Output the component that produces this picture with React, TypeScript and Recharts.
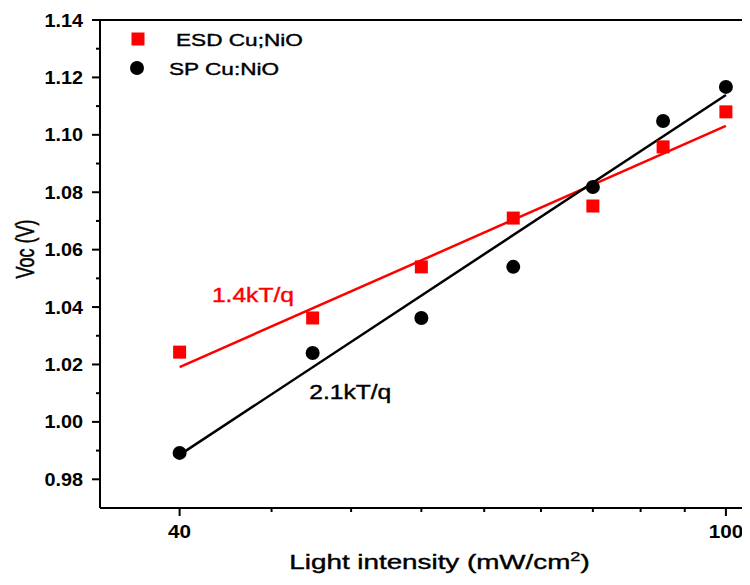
import React from "react";
import {
  ComposedChart,
  XAxis,
  YAxis,
  Line,
  Scatter,
  Legend,
  ReferenceLine,
  ReferenceDot,
} from "recharts";

// light intensity (mW/cm2), log axis
const intensity = [40, 50, 60, 70, 80, 90, 100];
const esdVoc = [1.0243, 1.0362, 1.054, 1.071, 1.0752, 1.0958, 1.108];
const spVoc = [0.9892, 1.024, 1.0362, 1.054, 1.0818, 1.1048, 1.1167];

// linear fits (Voc vs ln I), end points
const fitIntensity = [40, 100];
const esdFit = [1.0191, 1.1031];
const spFit = [0.9885, 1.1139];

const seriesNames = ["ESD Cu;NiO", "SP Cu:NiO"];
const slopeLabels = ["1.4kT/q", "2.1kT/q"];

const xTicks = [40, 46.67, 53.33, 60, 66.67, 73.33, 80, 86.67, 93.33, 100];
const xLabelled = [40, 100];
const yTicks = [
  0.98, 0.99, 1.0, 1.01, 1.02, 1.03, 1.04, 1.05, 1.06, 1.07, 1.08, 1.09, 1.1,
  1.11, 1.12, 1.13, 1.14,
];

const FONT = "'Liberation Sans', Arial, sans-serif";
const RED = "#ff0000";

const esdData = intensity.map((x, i) => ({ x, y: esdVoc[i] }));
const spData = intensity.map((x, i) => ({ x, y: spVoc[i] }));
const esdFitData = fitIntensity.map((x, i) => ({ x, y: esdFit[i] }));
const spFitData = fitIntensity.map((x, i) => ({ x, y: spFit[i] }));

// the original figure is stretched sideways, so glyphs get a horizontal scale
const Wide = ({ x, y, sx, anchor = "start", fill = "#000", heavy, children, ...rest }: any) => (
  <text
    transform={`translate(${x}, ${y}) scale(${sx}, 1)`}
    textAnchor={anchor}
    fontFamily={FONT}
    fill={fill}
    stroke={heavy ? fill : undefined}
    strokeWidth={heavy ? 0.4 : undefined}
    {...rest}
  >
    {children}
  </text>
);

const XTick = ({ x, y, payload }: any) => {
  const major = xLabelled.includes(payload.value);
  return (
    <g>
      <line x1={x} x2={x} y1={y} y2={y + (major ? 8 : 4)} stroke="#000" strokeWidth={2} />
      {major && (
        <Wide x={x} y={y + 30} sx={1.15} anchor="middle" fontWeight="bold" fontSize={18}>
          {String(payload.value)}
        </Wide>
      )}
    </g>
  );
};

const YTick = ({ x, y, payload }: any) => {
  const major = Math.round(payload.value * 100) % 2 === 0;
  return (
    <g>
      <line x1={x - (major ? 8 : 4)} x2={x} y1={y} y2={y} stroke="#000" strokeWidth={2} />
      {major && (
        <Wide x={x - 17} y={y + 6.5} sx={1.1} anchor="end" fontWeight="bold" fontSize={18}>
          {payload.value.toFixed(2)}
        </Wide>
      )}
    </g>
  );
};

const YTitle = ({ viewBox }: any) => (
  <text
    transform={`translate(${viewBox.x + 25}, ${viewBox.y + viewBox.height / 2 - 15}) scale(1.45,1) rotate(-90)`}
    textAnchor="middle"
    dominantBaseline="central"
    fontFamily={FONT}
    fontSize={18}
    fill="#000"
    stroke="#000"
    strokeWidth={0.35}
  >
    Voc (V)
  </text>
);

const XTitle = ({ viewBox }: any) => (
  <Wide
    x={viewBox.x + viewBox.width / 2 + 12}
    y={viewBox.y + 61}
    sx={1.39}
    anchor="middle"
    fontSize={20}
    heavy
  >
    Light intensity (mW/cm
    <tspan fontSize={13} dy={-8}>
      2
    </tspan>
    <tspan dy={8}>)</tspan>
  </Wide>
);

const SlopeLabel = ({ viewBox, text, color }: any) => (
  <Wide x={viewBox.x} y={viewBox.y} sx={1.23} fontSize={20} fill={color} heavy>
    {text}
  </Wide>
);

const RedSquare = ({ cx, cy }: any) => (
  <rect x={cx - 6.5} y={cy - 6.5} width={13} height={13} fill={RED} />
);
const BlackDot = ({ cx, cy }: any) => <circle cx={cx} cy={cy} r={7} fill="#000" />;

const LegendBox = () => (
  <svg width={320} height={90} style={{ display: "block" }}>
    <rect x={131.5} y={32.5} width={13} height={13} fill={RED} />
    <Wide x={176} y={45.5} sx={1.33} fontSize={17} heavy>
      {seriesNames[0]}
    </Wide>
    <circle cx={137} cy={68} r={7} fill="#000" />
    <Wide x={169} y={74.5} sx={1.33} fontSize={17} heavy>
      {seriesNames[1]}
    </Wide>
  </svg>
);

export default function App() {
  return (
    <div style={{ margin: -8, width: 750, height: 585, overflow: "hidden", background: "#fff" }}>
      <ComposedChart
        width={760}
        height={585}
        margin={{ top: 20, right: 5, bottom: 0, left: 0 }}
      >
        <XAxis
          dataKey="x"
          type="number"
          scale="log"
          domain={[35, 105]}
          allowDataOverflow
          ticks={xTicks}
          interval={0}
          tick={<XTick />}
          tickLine={false}
          tickSize={0}
          tickMargin={0}
          height={77}
          axisLine={{ stroke: "#000", strokeWidth: 2 }}
          label={<XTitle />}
        />
        <YAxis
          type="number"
          domain={[0.97, 1.14]}
          allowDataOverflow
          ticks={yTicks}
          interval={0}
          tick={<YTick />}
          tickLine={false}
          tickSize={0}
          tickMargin={0}
          width={100}
          axisLine={{ stroke: "#000", strokeWidth: 2 }}
          label={<YTitle />}
        />
        <ReferenceLine y={1.14} stroke="#000" strokeWidth={2} />
        <Legend
          layout="vertical"
          align="center"
          verticalAlign="middle"
          wrapperStyle={{ top: 0, left: 0, width: 320, height: 90 }}
          content={<LegendBox />}
        />
        <Line
          data={esdFitData}
          dataKey="y"
          stroke={RED}
          strokeWidth={2.5}
          dot={false}
          activeDot={false}
          isAnimationActive={false}
          legendType="none"
        />
        <Line
          data={spFitData}
          dataKey="y"
          stroke="#000"
          strokeWidth={2.5}
          dot={false}
          activeDot={false}
          isAnimationActive={false}
          legendType="none"
        />
        <Scatter
          name={seriesNames[0]}
          data={esdData}
          dataKey="y"
          shape={<RedSquare />}
          isAnimationActive={false}
        />
        <Scatter
          name={seriesNames[1]}
          data={spData}
          dataKey="y"
          shape={<BlackDot />}
          isAnimationActive={false}
        />
        <ReferenceDot
          x={42.3}
          y={1.0414}
          r={1}
          fill="none"
          stroke="none"
          label={<SlopeLabel text={slopeLabels[0]} color={RED} />}
        />
        <ReferenceDot
          x={49.8}
          y={1.0076}
          r={1}
          fill="none"
          stroke="none"
          label={<SlopeLabel text={slopeLabels[1]} color="#000" />}
        />
      </ComposedChart>
    </div>
  );
}
